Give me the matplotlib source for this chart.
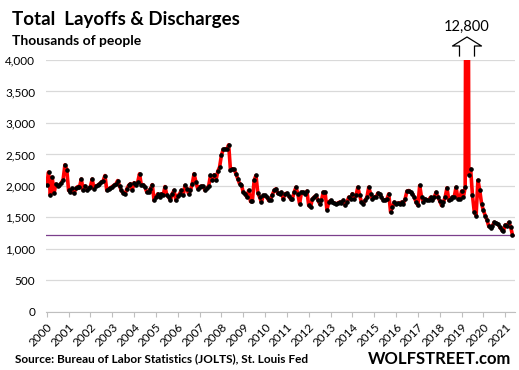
import numpy as np
import matplotlib
matplotlib.use('Agg')
import matplotlib.pyplot as plt
from matplotlib.lines import Line2D
from matplotlib.transforms import IdentityTransform

# monthly layoffs & discharges, thousands (Dec 2000 .. Apr 2022)
y2000 = [2020]
y2001 = [2220, 1850, 2140, 1880, 2030, 2000, 2010, 2050, 2100, 2335, 2260, 1930]
y2002 = [1910, 1960, 1880, 1960, 1990, 1980, 2110, 1930, 2000, 1930, 1960, 1990]
y2003 = [2110, 1950, 2000, 2010, 2030, 2060, 2080, 2165, 1930, 1950, 1970, 1990]
y2004 = [2010, 2030, 2085, 2000, 1930, 1885, 1870, 1950, 2008, 2035, 1930, 2050]
y2005 = [2008, 2060, 2193, 2008, 2020, 1980, 1900, 1900, 1950, 2020, 1770, 1822]
y2006 = [1875, 1822, 1875, 1850, 1990, 1850, 1822, 1770, 1875, 1930, 1770, 1840]
y2007 = [1875, 1930, 1850, 2008, 1955, 1875, 1930, 2035, 2193, 2060, 1955, 1985]
y2008 = [1996, 1996, 1928, 1965, 2000, 2166, 2087, 2177, 2087, 2230, 2298, 2484]
y2009 = [2579, 2590, 2579, 2653, 2246, 2272, 2262, 2193, 2114, 2034, 2018, 1902]
y2010 = [1875, 1822, 1928, 1753, 1753, 2087, 2166, 1891, 1822, 1743, 1849, 1849]
y2011 = [1822, 1769, 1780, 1860, 1928, 1955, 1880, 1870, 1900, 1795, 1875, 1885]
y2012 = [1840, 1795, 1795, 1900, 1980, 1875, 1717, 1900, 1900, 1875, 1917, 1690]
y2013 = [1664, 1795, 1822, 1848, 1780, 1717, 1770, 1900, 1900, 1622, 1743, 1770]
y2014 = [1740, 1728, 1717, 1728, 1743, 1728, 1770, 1690, 1743, 1822, 1795, 1875]
y2015 = [1800, 1848, 1980, 1848, 1743, 1717, 1770, 1822, 1980, 1875, 1795, 1822]
y2016 = [1822, 1885, 1875, 1822, 1770, 1770, 1795, 1875, 1585, 1664, 1743, 1717]
y2017 = [1728, 1720, 1743, 1717, 1795, 1917, 1927, 1900, 1875, 1822, 1743, 1690]
y2018 = [2007, 1822, 1743, 1795, 1770, 1780, 1822, 1770, 1822, 1900, 1822, 1760]
y2019 = [1690, 1743, 1822, 1970, 1770, 1795, 1822, 1832, 1980, 1795, 1795, 1917]
y2020 = [1822, 1980, 12800, 2180, 2270, 1850, 1590, 1530, 2090, 1930, 1720, 1610]
y2021 = [1530, 1455, 1357, 1340, 1370, 1425, 1410, 1395, 1347, 1305, 1283, 1380]
y2022 = [1370, 1420, 1350, 1220]

year_labels = [str(y) for y in range(2000, 2022)]
spike_label = '12,800'

values = np.array(y2000 + y2001 + y2002 + y2003 + y2004 + y2005 + y2006 + y2007 +
                  y2008 + y2009 + y2010 + y2011 + y2012 + y2013 + y2014 + y2015 +
                  y2016 + y2017 + y2018 + y2019 + y2020 + y2021 + y2022)
months = np.arange(len(values))

plt.rcParams['font.family'] = ['Lato', 'DejaVu Sans']

fig = plt.figure(figsize=(5.19, 3.70), dpi=100)
ax = fig.add_axes([0.089, 0.157, 0.903, 0.681])

ax.plot(months, values, color='#FF0000', lw=2.6, zorder=3)
ax.plot(months, values, 'o', color='black', ms=2.3, zorder=4)
ax.axhline(values[-1], color='#7B3F8C', lw=0.9, zorder=2)

ax.set_ylim(0, 4000)
ax.set_xlim(-0.3, len(values) + 0.3)
ax.set_yticks(np.arange(0, 4001, 500))
ax.set_yticklabels(['{:,}'.format(v) for v in range(0, 4001, 500)], fontsize=8.5)
ax.yaxis.grid(True, color='#D9D9D9', lw=0.9)
ax.set_axisbelow(True)
ax.tick_params(axis='y', length=0, pad=8)

ax.set_xticks(np.arange(0, 12 * len(year_labels), 12))
ax.set_xticklabels(year_labels, rotation=45, ha='right', rotation_mode='anchor', fontsize=8.5)
ax.tick_params(axis='x', length=3.5, color='#BFBFBF', pad=3)

for s in ['top', 'right', 'left']:
    ax.spines[s].set_visible(False)
ax.spines['bottom'].set_color('#BFBFBF')

# block arrow + label above the clipped spike (pixel coords)
spike_i = int(np.argmax(values))
cx, top = ax.transData.transform((spike_i, 4000))
H = fig.bbox.height
ax_pts = [-7.5, -7.5, -14.5, 0, 14.5, 7.5, 7.5]
ay_pts = [56, 46, 46, 37, 46, 46, 56]
arrow = Line2D([cx + dx for dx in ax_pts], [H - yy for yy in ay_pts],
               color='black', lw=0.9, transform=IdentityTransform())
fig.add_artist(arrow)
fig.text(cx / fig.bbox.width, 1 - 27 / H, spike_label, ha='center', va='center', fontsize=10.5)

fig.text(0.023, 0.948, 'Total  Layoffs & Discharges', fontsize=13.5, fontweight='bold',
         ha='left', va='center')
fig.text(0.023, 0.888, 'Thousands of people', fontsize=10, fontweight='bold',
         ha='left', va='center')
fig.text(0.029, 0.03, 'Source: Bureau of Labor Statistics (JOLTS), St. Louis Fed',
         fontsize=8.5, fontweight='bold', ha='left', va='center')
fig.text(0.985, 0.03, 'WOLFSTREET.com', fontsize=12, fontweight='bold',
         ha='right', va='center')

fig.savefig('out.png', dpi=100)
